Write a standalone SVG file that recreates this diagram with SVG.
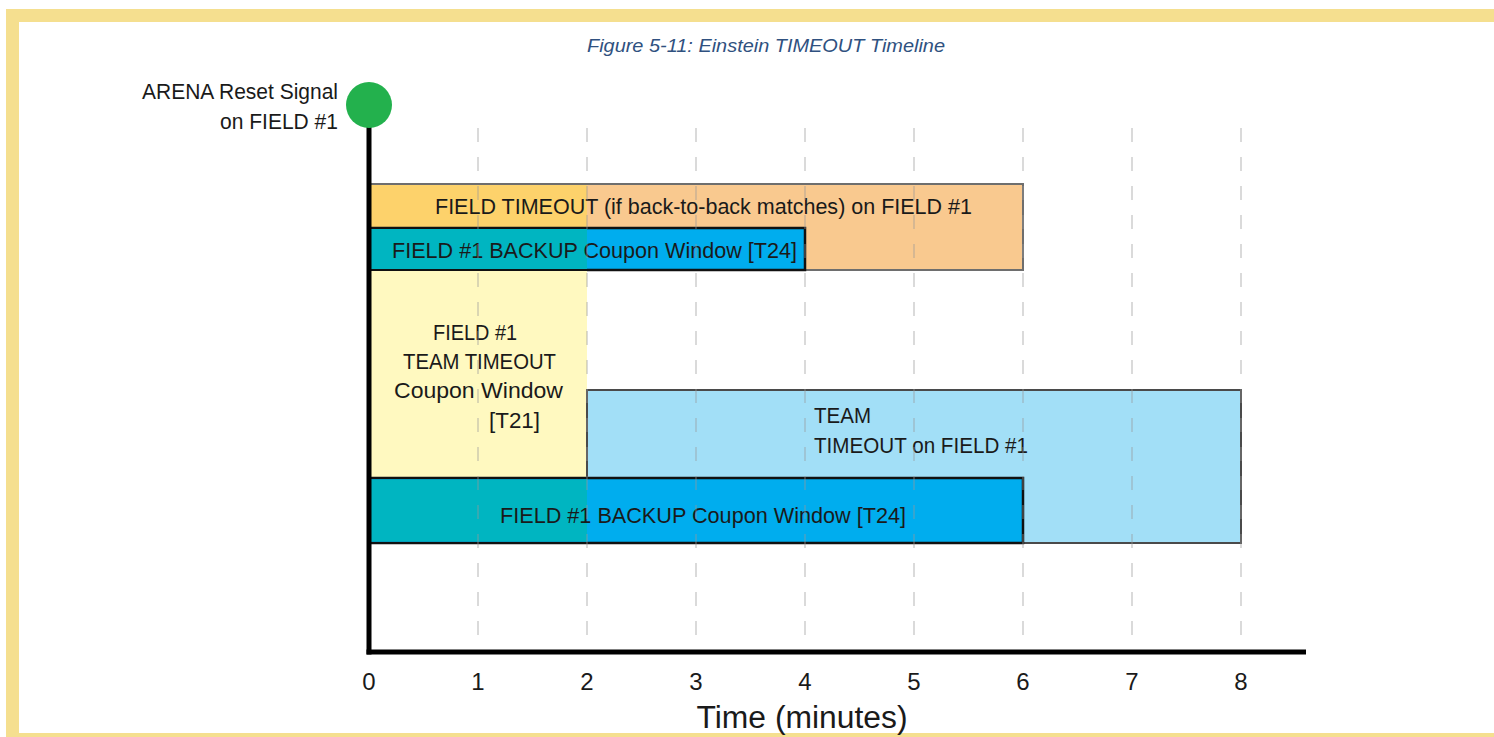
<svg xmlns="http://www.w3.org/2000/svg" width="1494" height="737" viewBox="0 0 1494 737">
<style>
.t{font-family:"Liberation Sans",Arial,sans-serif;font-size:22px;fill:#1a1a1a}
.tick{font-family:"Liberation Sans",Arial,sans-serif;font-size:24px;fill:#1a1a1a;text-anchor:middle}
.grid{stroke:#9a9a9a;stroke-opacity:0.45;stroke-width:1.6;stroke-dasharray:14 15}
</style>
<rect width="1494" height="737" fill="#ffffff"/>
<g id="frame" fill="#f5df8f">
<rect x="6" y="9" width="1488" height="13"/>
<rect x="6" y="9" width="13" height="728"/>
<rect x="6" y="733" width="1488" height="4"/>
</g>
<text id="title" x="766" y="52" text-anchor="middle" font-family="Liberation Sans,Arial,sans-serif" font-style="italic" font-size="18" fill="#2f5180" textLength="358" lengthAdjust="spacingAndGlyphs">Figure 5-11: Einstein TIMEOUT Timeline</text>
<g id="field-timeout">
<rect x="369" y="184" width="654" height="86" fill="#f9c98f" stroke="#6e6e6e" stroke-width="2"/>
<rect x="370" y="185" width="217" height="43" fill="#fdd26b"/>
<text class="t" x="435" y="214" textLength="537" lengthAdjust="spacingAndGlyphs">FIELD TIMEOUT (if back-to-back matches) on FIELD #1</text>
</g>
<g id="backup-1">
<rect x="369" y="228" width="436" height="42" fill="#00adee" stroke="#111" stroke-width="2.5"/>
<rect x="370" y="229" width="217" height="40" fill="#00b5c1"/>
<text class="t" x="392" y="258" textLength="405" lengthAdjust="spacingAndGlyphs">FIELD #1 BACKUP Coupon Window [T24]</text>
</g>
<g id="team-timeout-window">
<rect x="369" y="271" width="218" height="207" fill="#fff9c0"/>
<text class="t" x="433" y="340" textLength="84" lengthAdjust="spacingAndGlyphs">FIELD #1</text>
<text class="t" x="403" y="369" textLength="153" lengthAdjust="spacingAndGlyphs">TEAM TIMEOUT</text>
<text class="t" x="394" y="398" textLength="169" lengthAdjust="spacingAndGlyphs">Coupon Window</text>
<text class="t" x="489" y="428" textLength="51" lengthAdjust="spacingAndGlyphs">[T21]</text>
</g>
<g id="team-timeout">
<rect x="587" y="390" width="654" height="153" fill="#a2dff7" stroke="#4a4a4a" stroke-width="2"/>
<text class="t" x="814" y="423" textLength="57" lengthAdjust="spacingAndGlyphs">TEAM</text>
<text class="t" x="814" y="453" textLength="214" lengthAdjust="spacingAndGlyphs">TIMEOUT on FIELD #1</text>
</g>
<g id="backup-2">
<rect x="369" y="478" width="654" height="65" fill="#00adee" stroke="#111" stroke-width="2.5"/>
<rect x="370" y="479.5" width="217" height="62" fill="#00b5c1"/>
<text class="t" x="500" y="523" textLength="406" lengthAdjust="spacingAndGlyphs">FIELD #1 BACKUP Coupon Window [T24]</text>
</g>
<g id="connectors">
<line class="grid" x1="478" y1="128" x2="478" y2="646"/>
<line class="grid" x1="587" y1="128" x2="587" y2="646"/>
<line class="grid" x1="696" y1="128" x2="696" y2="646"/>
<line class="grid" x1="805" y1="128" x2="805" y2="646"/>
<line class="grid" x1="914" y1="128" x2="914" y2="646"/>
<line class="grid" x1="1023" y1="128" x2="1023" y2="646"/>
<line class="grid" x1="1132" y1="128" x2="1132" y2="646"/>
<line class="grid" x1="1241" y1="128" x2="1241" y2="646"/>
<line x1="369" y1="105" x2="369" y2="654.5" stroke="#000" stroke-width="5"/>
<line x1="366.5" y1="652" x2="1306" y2="652" stroke="#000" stroke-width="5"/>
</g>
<g id="reset-signal">
<circle cx="369" cy="105" r="23" fill="#23b14d"/>
<text class="t" x="338" y="99" text-anchor="end" textLength="196" lengthAdjust="spacingAndGlyphs">ARENA Reset Signal</text>
<text class="t" x="338" y="129" text-anchor="end" textLength="118" lengthAdjust="spacingAndGlyphs">on FIELD #1</text>
</g>
<g id="axis-labels">
<text class="tick" x="369" y="690">0</text>
<text class="tick" x="478" y="690">1</text>
<text class="tick" x="587" y="690">2</text>
<text class="tick" x="696" y="690">3</text>
<text class="tick" x="805" y="690">4</text>
<text class="tick" x="914" y="690">5</text>
<text class="tick" x="1023" y="690">6</text>
<text class="tick" x="1132" y="690">7</text>
<text class="tick" x="1241" y="690">8</text>
<text x="802" y="728" text-anchor="middle" font-family="Liberation Sans,Arial,sans-serif" font-size="31" fill="#1a1a1a" textLength="211" lengthAdjust="spacingAndGlyphs">Time (minutes)</text>
</g>
</svg>
